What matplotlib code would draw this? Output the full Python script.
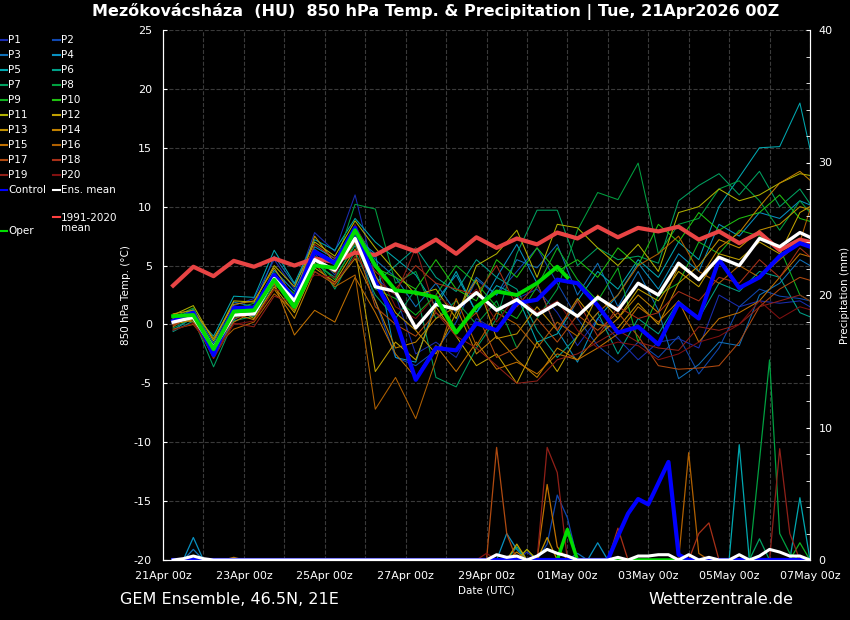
import numpy as np
import matplotlib
matplotlib.use("Agg")
import matplotlib.pyplot as plt
from matplotlib.lines import Line2D
from matplotlib.ticker import MultipleLocator

# time axis: hours after 21Apr2026 00Z
temp_hours = np.arange(6, 391, 12)          # 06z / 18z steps
precip_hours = np.arange(6, 385, 6)         # 6-hourly sums
oper_hours = list(range(6, 235, 12)) + [240]

date_labels = ["21Apr 00z", "23Apr 00z", "25Apr 00z", "27Apr 00z", "29Apr 00z",
               "01May 00z", "03May 00z", "05May 00z", "07May 00z"]

member_names = ["P%d" % i for i in range(1, 21)]
member_colors = ["#1a2db0", "#1048b0", "#1070b8", "#0890c0", "#00a8b0",
                 "#00a088", "#00a060", "#00a040", "#10b020", "#20c010",
                 "#b0b000", "#c0a000", "#c09000", "#c08000", "#c07000",
                 "#b06000", "#b04a10", "#a83018", "#902018", "#801010"]

# 850 hPa temperature (°C), one value per temp_hours step
p1 = [0.5, 1.2, -1.8, 1.6, 2.2, 5.5, 3.0, 7.8, 6.2, 11.0, 4.0, 2.5, -2.5, -1.5, -2.8, 0.5, -0.5, 2.2, 3.0, 1.0, -1.8, 0.5, -1.2, -3.0, -1.5, -1.2, -2.0, 2.5, 1.5, 2.0, 1.8, 2.0, 1.0]
p2 = [0.0, 0.8, -2.4, 1.0, 0.8, 4.3, 2.4, 6.0, 4.2, 7.6, 2.0, -2.8, -3.5, -2.2, 0.2, 3.8, 2.5, 4.5, 6.5, 3.5, 0.5, -1.8, -3.2, -1.5, -2.8, -1.0, -4.2, -2.0, 1.5, 3.0, 2.4, 2.2, 1.8]
p3 = [0.4, 1.3, -1.6, 1.9, 1.5, 5.8, 3.4, 6.3, 5.4, 8.3, 5.5, 4.0, 1.5, 3.5, 1.0, 4.0, 2.5, 5.5, 4.8, 6.8, 2.5, 5.2, 1.5, 4.5, 1.2, -4.6, -3.4, -1.5, -1.8, 2.5, 3.5, 5.5, 4.5]
p4 = [-0.5, 0.6, -2.6, 0.4, 1.4, 4.6, 2.8, 6.6, 5.6, 7.4, 6.0, -2.8, -3.2, 2.0, 4.2, 1.0, 4.0, 6.8, 3.5, -0.5, -3.2, 0.5, 2.5, 5.2, 3.0, 6.0, 4.5, 8.5, 7.5, 9.5, 9.0, 10.5, 9.8]
p5 = [0.1, 0.9, -1.0, 2.4, 2.3, 6.3, 3.5, 7.2, 6.3, 9.0, 7.0, 5.6, 4.2, 1.5, 4.5, 1.0, 3.3, 2.5, -1.5, -0.8, 2.0, 4.5, 3.0, 5.5, 4.0, 7.0, 5.5, 10.0, 12.5, 15.0, 15.1, 18.8, 11.0]
p6 = [-0.6, 0.3, -2.2, 1.2, 1.0, 3.9, 1.8, 5.2, 4.0, 6.7, 3.5, 5.0, 6.5, 4.0, 2.8, 5.5, 4.0, 3.0, -0.5, -2.8, -1.0, 1.0, -2.5, 0.5, -0.8, 2.0, 0.5, 3.5, 2.8, 4.5, 4.0, 1.0, 0.3]
p7 = [-0.3, 0.5, -3.6, 0.3, 0.7, 3.4, 2.0, 5.8, 3.0, 6.2, 2.5, 0.5, 3.0, -4.5, -5.3, -2.0, 0.5, 6.0, 9.7, 9.7, 5.0, 6.5, 5.5, 5.8, 5.2, 10.5, 11.8, 12.8, 11.0, 13.0, 10.0, 11.5, 9.0]
p8 = [0.2, 0.7, -2.8, 0.9, 1.6, 4.4, 1.5, 6.4, 5.0, 10.2, 9.8, 3.5, 4.5, 0.5, 2.0, 0.0, 2.0, -2.0, 0.5, 3.0, 8.0, 11.2, 10.6, 13.7, 6.0, 8.5, 9.0, 11.5, 12.2, 10.5, 8.0, 10.5, 8.5]
p9 = [0.6, 1.4, -2.0, 1.3, 1.8, 3.6, 1.2, 5.4, 3.8, 6.9, 3.0, 2.2, 0.8, 2.5, 5.0, 3.5, 1.5, 0.5, 3.2, 6.5, 3.8, 2.0, 4.8, -1.5, 2.5, 3.5, 7.0, 6.0, 8.0, 7.5, 6.5, 2.5, 1.5]
p10 = [0.3, 1.0, -2.3, 0.6, 1.2, 4.0, 2.6, 5.6, 4.4, 8.0, 4.8, 4.0, 3.0, 5.5, 3.0, 2.0, 5.5, 4.0, 6.5, 4.5, 5.5, 4.0, 6.5, 5.0, 8.5, 7.0, 9.5, 8.0, 9.0, 9.5, 11.0, 9.0, 8.5]
p11 = [0.8, 1.6, -1.4, 2.0, 1.9, 5.0, 3.2, 7.0, 5.8, 8.8, 6.5, 4.5, 2.5, 3.0, 0.5, 5.0, 6.0, 8.0, 4.0, 8.5, 8.2, 6.5, 5.0, 6.8, 4.5, 9.5, 10.0, 11.5, 10.5, 11.0, 12.0, 12.8, 12.5]
p12 = [0.0, 0.4, -2.5, 1.5, 0.5, 3.2, 1.0, 4.8, 3.6, 6.4, -4.0, -1.5, -3.0, 1.5, -1.0, -3.5, -2.5, -5.0, -1.5, -4.0, -1.0, 2.5, 0.5, 3.0, 2.0, 4.5, 3.2, 6.0, 5.5, 7.0, 6.0, 9.5, 10.5]
p13 = [0.9, 1.2, -1.2, 1.7, 2.0, 4.8, 2.2, 7.5, 5.2, 7.8, 4.2, 1.0, -0.5, -2.5, 1.0, 3.8, -1.2, -0.8, 1.5, -0.5, 2.2, 0.0, -0.3, 1.8, 0.0, 3.5, 5.0, 7.2, 6.5, 8.0, 8.5, 10.0, 9.5]
p14 = [-0.2, 1.1, -1.9, 0.9, 0.4, 3.0, 0.5, 4.5, 3.4, 5.6, 2.0, -2.0, -1.5, 0.5, 1.5, -2.5, -1.0, -3.0, -4.5, -2.0, -3.0, -1.0, 0.5, 2.5, 1.0, 5.0, 3.8, 6.5, 7.8, 10.0, 12.0, 13.0, 11.5]
p15 = [0.5, 0.2, -2.7, 0.2, 1.1, 3.5, -0.9, 1.2, 0.2, 4.0, 1.0, -2.5, -4.5, -1.8, -4.0, -1.5, -3.8, -3.2, -4.2, -2.5, -3.0, -2.0, -0.8, 1.5, 0.2, 2.0, -1.5, 0.5, 1.0, 2.0, 4.0, 6.0, 5.5]
p16 = [-0.4, 0.0, -2.1, -0.4, 0.2, 2.6, 1.2, 5.2, 3.2, 4.2, -7.2, -4.5, -8.0, -3.0, 2.2, -1.8, 1.0, 0.0, -2.0, 0.2, -1.0, 1.0, 2.5, 5.0, 6.0, 7.5, 4.5, 3.5, 5.0, 4.0, 5.5, 7.0, 12.5]
p17 = [0.0, 0.9, -2.2, 1.1, 0.8, 4.2, 2.0, 5.5, 4.4, 7.0, 1.5, 0.0, -1.0, 1.0, -0.5, 1.0, -2.8, -2.0, 0.5, -1.5, 0.8, -0.5, 1.0, -1.0, -3.5, -3.8, -3.7, -3.5, -1.5, 1.5, 3.0, 4.0, 3.5]
p18 = [-0.1, 0.8, -2.4, 0.5, 1.0, 3.7, 2.3, 6.8, 5.6, 7.0, 4.5, 3.0, 5.0, 3.5, 3.0, 2.5, 5.0, 1.5, 3.5, -0.5, 2.0, -1.0, 1.5, 0.5, 1.0, 2.8, 2.0, 4.0, 3.5, 5.5, 4.0, 6.5, 5.0]
p19 = [0.2, 0.5, -2.9, 0.1, -0.2, 2.4, 1.8, 4.5, 3.5, 5.8, 3.8, 2.5, 6.5, 1.0, -1.0, -2.0, -3.5, -5.0, -4.8, -3.0, -2.5, -1.5, -0.5, -1.5, -2.0, -2.2, -0.2, -0.5, 0.0, 1.5, 2.0, 2.5, 1.5]
p20 = [-0.5, 0.1, -2.5, 0.0, 0.3, 3.0, 2.5, 4.2, 4.0, 8.5, 5.0, 1.5, 0.5, 2.5, 1.2, 3.0, 0.2, 2.5, 1.0, 2.0, -0.5, -2.0, -1.5, -1.8, -3.0, -2.5, -1.5, -1.0, 0.0, 2.0, 0.5, 1.5, 1.0]
members_temp = [p1, p2, p3, p4, p5, p6, p7, p8, p9, p10,
                p11, p12, p13, p14, p15, p16, p17, p18, p19, p20]

control_temp = [0.3, 1.0, -2.6, 1.4, 1.4, 4.2, 2.2, 6.2, 5.2, 8.2, 3.6, 0.4, -4.7, -2.0, -2.2, 0.1, -0.5, 1.8, 2.1, 3.8, 3.5, 1.6, -0.7, -0.2, -1.7, 1.8, 0.5, 5.5, 3.1, 4.0, 5.8, 6.9, 6.3]
ens_mean_temp = [0.2, 0.6, -2.0, 0.8, 0.9, 3.9, 2.0, 5.5, 4.6, 7.3, 3.2, 2.8, -0.3, 1.7, 1.3, 2.7, 1.2, 2.1, 0.8, 1.8, 0.7, 2.3, 1.2, 3.5, 2.5, 5.2, 3.8, 5.7, 5.0, 7.3, 6.6, 7.8, 7.0]
oper_temp = [0.7, 0.8, -2.1, 1.1, 1.2, 3.8, 1.5, 5.0, 4.8, 8.0, 5.0, 2.9, 2.7, 2.3, -0.7, 1.5, 2.8, 2.5, 3.5, 4.9, 4.0]
clim_temp = [3.3, 4.9, 4.1, 5.4, 4.9, 5.6, 5.0, 5.6, 5.3, 6.1, 5.9, 6.8, 6.2, 7.2, 6.0, 7.4, 6.5, 7.3, 6.8, 7.8, 7.3, 8.3, 7.4, 8.2, 7.9, 8.3, 7.2, 7.9, 6.9, 7.8, 6.3, 7.2, 6.8]

# precipitation (mm per 6 h): (hour, amount); all other steps are 0
members_precip = {
    "P1": [(216, 0.6)],
    "P2": [(228, 1.2), (234, 4.9), (240, 3.2)],
    "P3": [(18, 0.8), (246, 0.5)],
    "P4": [(18, 1.7), (204, 2.0), (210, 0.8), (258, 1.3)],
    "P5": [(342, 8.7), (378, 4.7)],
    "P6": [(210, 1.0)],
    "P7": [(354, 1.6)],
    "P8": [(354, 7.5), (360, 15.1), (366, 2.0), (372, 0.5)],
    "P9": [(378, 1.3)],
    "P10": [],
    "P11": [(216, 0.8)],
    "P12": [(210, 1.2)],
    "P13": [(228, 1.7)],
    "P14": [(42, 0.2), (210, 0.6)],
    "P15": [(228, 5.7), (234, 1.0)],
    "P16": [(312, 8.1), (318, 0.5)],
    "P17": [(198, 8.5), (204, 2.0)],
    "P18": [(270, 2.4), (318, 2.0), (324, 2.8)],
    "P19": [(228, 8.5), (234, 6.6), (366, 8.4), (372, 2.0)],
    "P20": [(192, 0.5)],
}
control_precip = [(270, 1.8), (276, 3.5), (282, 4.6), (288, 4.2), (294, 5.8), (300, 7.4), (306, 0.4)]
oper_precip = [(240, 2.3)]
ens_mean_precip = [(12, 0.1), (18, 0.3), (24, 0.1), (198, 0.4), (204, 0.2), (210, 0.3),
                   (222, 0.3), (228, 0.8), (234, 0.5), (240, 0.3), (270, 0.2), (282, 0.3),
                   (288, 0.3), (294, 0.4), (300, 0.4), (312, 0.4), (324, 0.2), (342, 0.4),
                   (354, 0.3), (360, 0.8), (366, 0.6), (372, 0.3), (378, 0.3)]


def precip_series(events):
    vals = np.zeros(len(precip_hours))
    for h, mm in events:
        vals[list(precip_hours).index(h)] = mm
    return vals


def days(h):
    return np.asarray(h) / 24.0


plt.rcParams['font.family'] = ['DejaVu Sans']
plt.rcParams['axes.unicode_minus'] = False
fig = plt.figure(figsize=(8.5, 6.2), dpi=100, facecolor='black')
ax = fig.add_axes([163/850, 60/620, 647/850, 530/620])
ax.set_facecolor('black')
ax2 = ax.twinx()

### temperature lines
for vals, col in zip(members_temp, member_colors):
    ax.plot(days(temp_hours), vals, color=col, lw=0.75, zorder=2)
ax.plot(days(temp_hours), clim_temp, color='#e84444', lw=3, zorder=3)
ax.plot(days(temp_hours), control_temp, color='#0000ff', lw=3, zorder=4)
ax.plot(days(temp_hours), ens_mean_temp, color='white', lw=2.4, zorder=5)
ax.plot(days(oper_hours), oper_temp, color='#00dd00', lw=2.8, zorder=6)

### precipitation lines
for name, col in zip(member_names, member_colors):
    ax2.plot(days(precip_hours), precip_series(members_precip[name]), color=col, lw=0.9)
ax2.plot(days(precip_hours), precip_series(oper_precip), color='#00dd00', lw=2.5)
ax2.plot(days(precip_hours), precip_series(control_precip), color='#0000ff', lw=3)
ax2.plot(days(precip_hours), precip_series(ens_mean_precip), color='white', lw=2.2)

### axes styling
ax.set_xlim(0, 16)
ax.set_ylim(-20, 25)
ax2.set_ylim(0, 40)
ax.set_xticks(np.arange(0, 17, 2))
ax.set_xticklabels(date_labels)
ax.xaxis.set_minor_locator(MultipleLocator(1))
ax.set_yticks(np.arange(-20, 26, 5))
ax2.set_yticks(np.arange(0, 41, 10))
ax2.yaxis.set_minor_locator(MultipleLocator(2))
ax.grid(True, which='both', axis='x', color='#3a3a3a', ls='--', lw=0.8)
ax.grid(True, which='major', axis='y', color='#3a3a3a', ls='--', lw=0.8)
ax.set_axisbelow(True)

for a in (ax, ax2):
    for s in a.spines.values():
        s.set_color('white')
    a.spines['top'].set_visible(False)
    a.tick_params(colors='white', labelsize=8, direction='in', length=3)
    a.tick_params(which='minor', colors='white', direction='in', length=3)
ax.tick_params(axis='x', which='both', length=0, pad=8)
ax.tick_params(axis='y', pad=8)
ax2.tick_params(axis='y', pad=6)

ax.set_xlabel("Date (UTC)", color='white', fontsize=7.5, labelpad=3)
ax.set_ylabel("850 hPa Temp. (°C)", color='white', fontsize=7.5)
ax2.set_ylabel("Precipitation (mm)", color='white', fontsize=7.5)
ax.yaxis.set_label_coords((131 - 163) / 647, 0.5)
ax2.yaxis.set_label_coords((840 - 163) / 647, 0.5)

fig.text(436/850, 1 - 12/620, "Mezőkovácsháza  (HU)  850 hPa Temp. & Precipitation | Tue, 21Apr2026 00Z",
         color='white', fontsize=11.55, fontweight='bold', ha='center', va='center')
fig.text(120/850, 1 - 599/620, "GEM Ensemble, 46.5N, 21E", color='white', fontsize=11.5,
         ha='left', va='center')
fig.text(793/850, 1 - 599/620, "Wetterzentrale.de", color='white', fontsize=11.5,
         ha='right', va='center')

### legend in figure pixels
lg = fig.add_axes([0, 0, 1, 1], zorder=10)
lg.set_xlim(0, 850)
lg.set_ylim(620, 0)
lg.axis('off')
for i, (name, col) in enumerate(zip(member_names, member_colors)):
    row, colm = divmod(i, 2)
    x0 = 0 if colm == 0 else 53
    y0 = 40 + 15 * row
    lg.add_line(Line2D([x0, x0 + 7], [y0, y0], color=col, lw=1.5))
    lg.text(x0 + 8, y0, name, color='white', fontsize=7.5, va='center')
extra = [(0, 190, '#0000ff', "Control"), (53, 190, 'white', "Ens. mean"),
         (53, 217, '#ff4040', "1991-2020\nmean"), (0, 231, '#00dd00', "Oper")]
for x0, y0, col, txt in extra:
    lg.add_line(Line2D([x0, x0 + 7], [y0, y0], color=col, lw=1.5))
    lg.text(x0 + 8, y0 - 4 if "\n" in txt else y0, txt, color='white', fontsize=7.5,
            va='top' if "\n" in txt else 'center', linespacing=0.95)

fig.savefig("out.png", dpi=100, facecolor='black')
